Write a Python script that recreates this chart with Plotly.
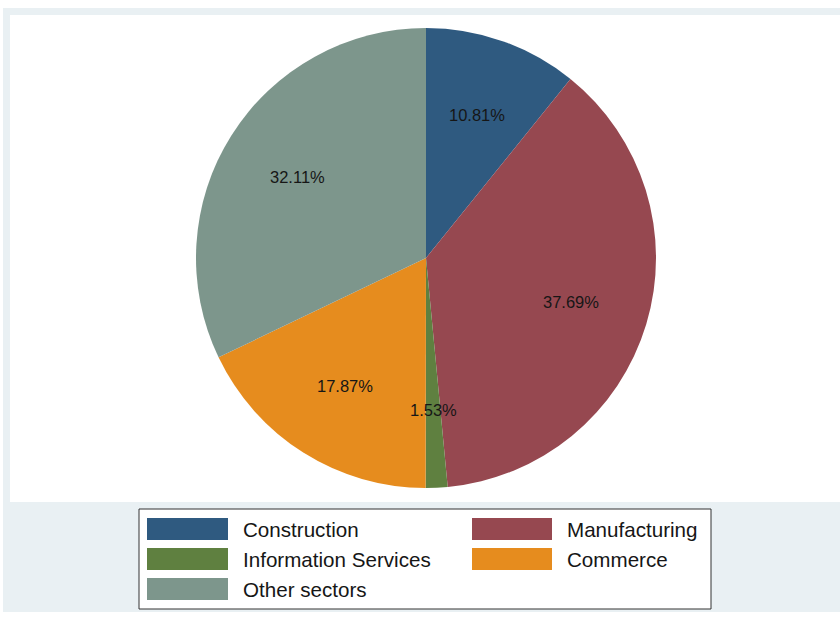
import math
import plotly.graph_objects as go

# Sector shares (percent), drawn clockwise from 12 o'clock
sectors = ["Construction", "Manufacturing", "Information Services", "Commerce", "Other sectors"]
shares = [10.81, 37.69, 1.53, 17.87, 32.11]
colors = ["#2f5a80", "#964850", "#5f8040", "#e68c1e", "#7d968c"]

W, H = 840, 618
CX, CY, R = 426, 258, 230          # pie centre and radius in px
LABEL_R = 0.66 * R                 # where the percentage labels sit
FONT = "Liberation Sans, Arial, sans-serif"


def px(x):
    return x / W


def py(y):
    return 1 - y / H


fig = go.Figure(
    go.Pie(
        labels=sectors,
        values=shares,
        marker=dict(colors=colors, line=dict(width=0)),
        sort=False,
        direction="clockwise",
        rotation=0,
        textinfo="none",
        hoverinfo="label+percent",
        showlegend=False,
        domain=dict(x=[px(CX - R), px(CX + R)], y=[py(CY + R), py(CY - R)]),
    )
)

# Percentage labels placed at the mid-angle of each slice
total = sum(shares)
cum = 0.0
annotations = []
for name, v in zip(sectors, shares):
    mid = (cum + v / 2) / total * 2 * math.pi
    cum += v
    x = CX + LABEL_R * math.sin(mid)
    y = CY - LABEL_R * math.cos(mid)
    annotations.append(dict(
        x=px(x), y=py(y), xref="paper", yref="paper",
        text=f"{v:.2f}%", showarrow=False,
        xanchor="center", yanchor="middle",
        font=dict(family=FONT, size=16.5, color="#161616"),
    ))

# Background panels
shapes = [
    dict(type="rect", xref="paper", yref="paper", layer="below",
         x0=px(3), x1=px(850), y0=py(612), y1=py(8),
         fillcolor="#e9f0f3", line=dict(width=0)),
    dict(type="rect", xref="paper", yref="paper", layer="below",
         x0=px(10), x1=px(850), y0=py(502), y1=py(15),
         fillcolor="#ffffff", line=dict(width=0)),
    # legend fill
    dict(type="rect", xref="paper", yref="paper", layer="below",
         x0=px(139), x1=px(711), y0=py(609), y1=py(509),
         fillcolor="#ffffff", line=dict(width=0)),
    # legend frame
    dict(type="rect", xref="paper", yref="paper", layer="above",
         x0=px(139), x1=px(711), y0=py(609), y1=py(509),
         fillcolor="rgba(255,255,255,0)", line=dict(color="#333333", width=1)),
]

# Legend: two columns of colour keys, filled row by row
col_x = [(147, 228, 241), (472, 552, 565)]
row_y = [529, 559, 589]
for i, (name, c) in enumerate(zip(sectors, colors)):
    r, k = divmod(i, 2)
    sx0, sx1, tx = col_x[k]
    yc = row_y[r]
    shapes.append(dict(
        type="rect", xref="paper", yref="paper", layer="above",
        x0=px(sx0), x1=px(sx1), y0=py(yc + 11), y1=py(yc - 11),
        fillcolor=c, line=dict(width=0),
    ))
    annotations.append(dict(
        x=px(tx), y=py(yc), xref="paper", yref="paper",
        text=name, showarrow=False, xanchor="left", yanchor="middle",
        font=dict(family=FONT, size=20.6, color="#161616"),
    ))

fig.update_layout(
    width=W, height=H,
    margin=dict(l=0, r=0, t=0, b=0),
    paper_bgcolor="#ffffff",
    plot_bgcolor="#ffffff",
    shapes=shapes,
    annotations=annotations,
)

fig.write_html("out.html")
